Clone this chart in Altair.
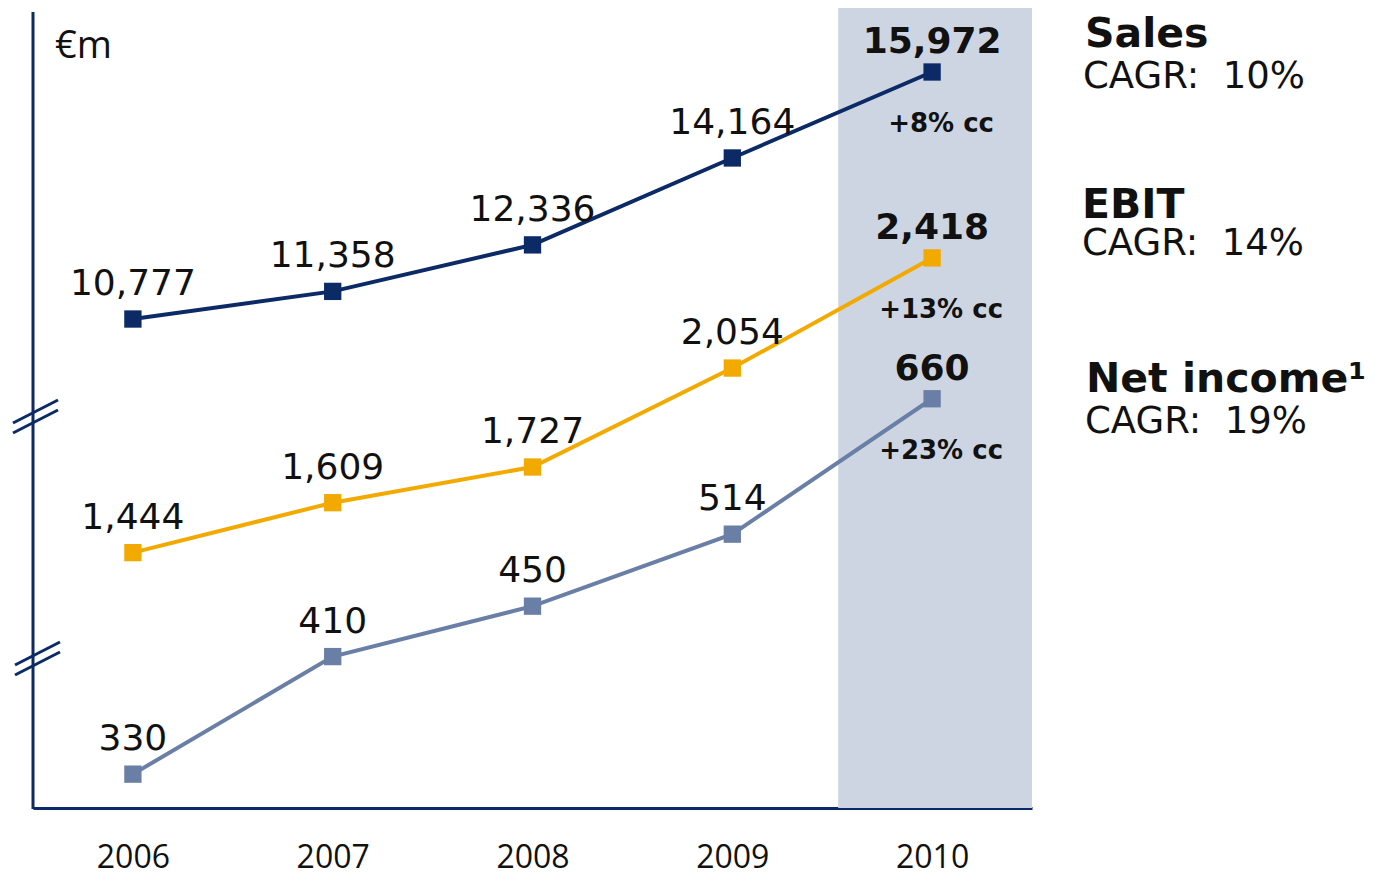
import altair as alt
import pandas as pd

# ---- data ----
years = [2006, 2007, 2008, 2009, 2010]
sales = [10777, 11358, 12336, 14164, 15972]
ebit = [1444, 1609, 1727, 2054, 2418]
net_income = [330, 410, 450, 514, 660]
series_names = ["Sales", "EBIT", "Net income¹"]
cc_growth = ["+8% cc", "+13% cc", "+23% cc"]
cagr_labels = ["CAGR:\u00a0\u00a010%", "CAGR:\u00a0\u00a014%", "CAGR:\u00a0\u00a019%"]
highlight_span = [2009.53, 2010.5]
unit_label = "€m"

NAVY = "#0b2a66"
colors = {"Sales": NAVY, "EBIT": "#f2aa00", "Net income¹": "#6a7fa6"}
scales = {
    "Sales": alt.Scale(domain=[493, 17318], nice=False, zero=False),
    "EBIT": alt.Scale(domain=[600, 3244], nice=False, zero=False),
    "Net income¹": alt.Scale(type="log", domain=[310, 1358], nice=False),
}
FONT = "DejaVu Sans"

x_scale = alt.Scale(domain=[2005.5, 2010.5], nice=False, zero=False)
x_axis = alt.Axis(values=years, format="d", ticks=False, grid=False, labelPadding=34,
                  labelFontSize=32, labelFont="Open Sans", labelColor="#111111",
                  domainColor=NAVY, domainWidth=3, title=None, labelFlush=False)


def series_layer(name, values, growth):
    df = pd.DataFrame({
        "year": years,
        "value": values,
        "label": [f"{v:,}" for v in values],
        "growth": [""] * (len(years) - 1) + [growth],
    })
    color = colors[name]
    base = alt.Chart(df).encode(
        x=alt.X("year:Q", scale=x_scale, axis=x_axis),
        y=alt.Y("value:Q", scale=scales[name], axis=None),
    )
    line = base.mark_line(color=color, strokeWidth=4)
    pts = base.mark_point(shape="square", filled=True, size=300, opacity=1, color=color)
    lbl = base.transform_filter("datum.year < 2010").mark_text(
        font=FONT, fontSize=36, dy=-24, baseline="alphabetic", color="#111111"
    ).encode(text="label:N")
    bold = base.transform_filter("datum.year == 2010").mark_text(
        font=FONT, fontSize=36, fontWeight="bold", dy=-19, baseline="alphabetic", color="#111111"
    ).encode(text="label:N")
    cc = base.transform_filter("datum.year == 2010").mark_text(
        font=FONT, fontSize=26, fontWeight="bold", dx=9, dy=60, baseline="alphabetic", color="#111111"
    ).encode(text="growth:N")
    return alt.layer(line, pts, lbl, bold, cc)


band = alt.Chart(pd.DataFrame({"x0": [highlight_span[0]], "x1": [highlight_span[1]]})).mark_rect(
    color="#cdd5e2"
).encode(
    x=alt.X("x0:Q", scale=x_scale, axis=x_axis),
    x2="x1:Q",
    y=alt.value(0),
    y2=alt.value(800),
)

left_axis = alt.Chart(pd.DataFrame({"a": [0]})).mark_rule(color=NAVY, strokeWidth=3).encode(
    x=alt.value(0), y=alt.value(4), y2=alt.value(801)
)

breaks = []
for (x1, y1, x2, y2) in [(-20, 415, 25, 392), (-20, 425, 25, 402),
                         (-18, 657, 27, 634), (-18, 667, 27, 644)]:
    breaks.append(
        alt.Chart(pd.DataFrame({"a": [0]})).mark_rule(color=NAVY, strokeWidth=3).encode(
            x=alt.value(x1), y=alt.value(y1), x2=alt.value(x2), y2=alt.value(y2)
        )
    )


def text_item(t, x, y, size, weight="normal", font=FONT):
    return alt.Chart(pd.DataFrame({"t": [t]})).mark_text(
        font=font, fontSize=size, fontWeight=weight, align="left", baseline="alphabetic", color="#111111"
    ).encode(text="t:N", x=alt.value(x), y=alt.value(y))


texts = [
    text_item(unit_label, 22, 50, 38, font="Open Sans"),
    text_item(series_names[0], 1052, 39, 41, "bold"),
    text_item(cagr_labels[0], 1050, 80, 37),
    text_item(series_names[1], 1049, 210, 41, "bold"),
    text_item(cagr_labels[1], 1049, 247, 37),
    text_item(series_names[2], 1053, 384, 41, "bold"),
    text_item(cagr_labels[2], 1052, 425, 37),
]

series = [series_layer(n, v, g) for n, v, g in zip(series_names, [sales, ebit, net_income], cc_growth)]

chart = alt.layer(band, left_axis, *breaks, *series, *texts).resolve_scale(
    y="independent"
).properties(
    width=999,
    height=800,
    autosize=alt.AutoSizeParams(type="none"),
    padding={"left": 25, "top": 0, "right": 335, "bottom": 64},
    background="white",
).configure_view(stroke=None)

chart.save("out.html", embed_options={"renderer": "svg", "actions": False})
